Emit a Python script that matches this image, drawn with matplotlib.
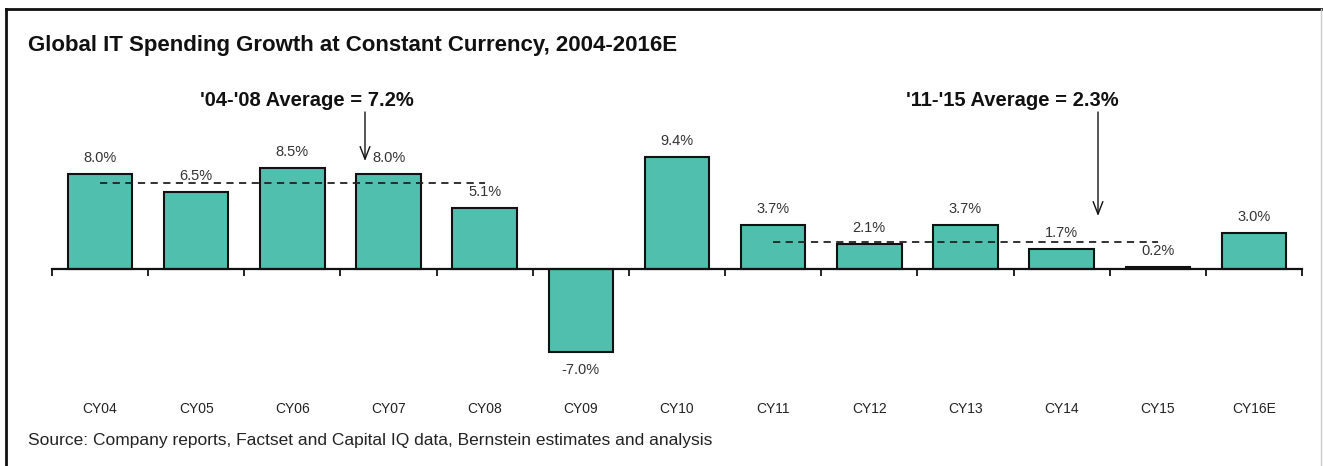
import matplotlib
matplotlib.use("Agg")
import matplotlib.pyplot as plt
from matplotlib.lines import Line2D

categories = ["CY04", "CY05", "CY06", "CY07", "CY08", "CY09", "CY10",
              "CY11", "CY12", "CY13", "CY14", "CY15", "CY16E"]
values = [8.0, 6.5, 8.5, 8.0, 5.1, -7.0, 9.4, 3.7, 2.1, 3.7, 1.7, 0.2, 3.0]
value_labels = ["8.0%", "6.5%", "8.5%", "8.0%", "5.1%", "-7.0%", "9.4%",
                "3.7%", "2.1%", "3.7%", "1.7%", "0.2%", "3.0%"]
avg1_value = 7.2
avg1_label = "'04-'08 Average = 7.2%"
avg2_value = 2.3
avg2_label = "'11-'15 Average = 2.3%"
title = "Global IT Spending Growth at Constant Currency, 2004-2016E"
source = "Source: Company reports, Factset and Capital IQ data, Bernstein estimates and analysis"

plt.rcParams['font.family'] = ['Liberation Sans', 'DejaVu Sans']

W, H = 1323, 466
fig = plt.figure(figsize=(W / 100, H / 100), dpi=100)

# axes in pixel coordinates
left_px, right_px = 52, 1302
top_px, bottom_px = 130, 380
ax = fig.add_axes([left_px / W, 1 - bottom_px / H,
                   (right_px - left_px) / W, (bottom_px - top_px) / H])
ppu = 11.9
zero_px = 269
ax.set_ylim(-(bottom_px - zero_px) / ppu, (zero_px - top_px) / ppu)
ax.set_xlim(-0.5, len(categories) - 0.5)

x = list(range(len(categories)))
ax.bar(x, values, width=0.67, color="#50BFAD", edgecolor="#111111",
       linewidth=1.5, zorder=2)

for xi, v, lab in zip(x, values, value_labels):
    if v >= 0:
        ax.annotate(lab, (xi, v), xytext=(0, 6.5), textcoords="offset points",
                    ha="center", va="bottom", fontsize=10.5, color="#333333")
    else:
        ax.annotate(lab, (xi, v), xytext=(0, -8), textcoords="offset points",
                    ha="center", va="top", fontsize=10.5, color="#333333")

for s in ["top", "right", "left"]:
    ax.spines[s].set_visible(False)
ax.spines["bottom"].set_position(("data", 0))
ax.spines["bottom"].set_linewidth(1.6)
ax.spines["bottom"].set_color("#111111")
ax.spines["bottom"].set_zorder(3)
ax.set_yticks([])
ax.set_xticks(x)
ax.set_xticklabels(categories, fontsize=10, color="#222222")
ax.tick_params(axis="x", which="major", length=0, pad=96)
ax.set_xticks([i - 0.5 for i in range(len(categories) + 1)], minor=True)
ax.tick_params(axis="x", which="minor", length=5, width=1.3, color="#111111")

# average lines
ax.plot([0, 4], [avg1_value, avg1_value], ls=(0, (4, 3)), color="#222222",
        lw=1.3, zorder=4)
ax.plot([7, 11], [avg2_value, avg2_value], ls=(0, (4, 3)), color="#222222",
        lw=1.3, zorder=4)

# annotations with arrows
fig.text(307 / W, 1 - 101 / H, avg1_label, ha="center", va="center",
         fontsize=14.5, fontweight="bold", color="#111111")
fig.text(1012 / W, 1 - 101 / H, avg2_label, ha="center", va="center",
         fontsize=14.5, fontweight="bold", color="#111111")

def px_to_data(px, py):
    disp = (px, H - py)
    return ax.transData.inverted().transform(disp)

a1s = px_to_data(365, 112)
a1e = px_to_data(365, 161)
ax.annotate("", xy=a1e, xytext=a1s, annotation_clip=False,
            arrowprops=dict(arrowstyle="->,head_length=0.9,head_width=0.35",
                            color="#111111", lw=1.0, shrinkA=0, shrinkB=0))
a2s = px_to_data(1098, 112)
a2e = px_to_data(1098, 216)
ax.annotate("", xy=a2e, xytext=a2s, annotation_clip=False,
            arrowprops=dict(arrowstyle="->,head_length=0.9,head_width=0.35",
                            color="#111111", lw=1.0, shrinkA=0, shrinkB=0))

fig.text(28 / W, 1 - 45 / H, title, ha="left", va="center",
         fontsize=16, fontweight="bold", color="#111111")
fig.text(28 / W, 1 - 440 / H, source, ha="left", va="center",
         fontsize=12.5, color="#222222")

# frame
fig.add_artist(Line2D([6 / W, 1321 / W], [1 - 9 / H, 1 - 9 / H],
                      transform=fig.transFigure, color="#111111", lw=2))
fig.add_artist(Line2D([6 / W, 6 / W], [1 - 9 / H, 0],
                      transform=fig.transFigure, color="#111111", lw=2))
fig.add_artist(Line2D([1321 / W, 1321 / W], [1 - 9 / H, 0],
                      transform=fig.transFigure, color="#cccccc", lw=1))

fig.savefig("out.png", dpi=100)
